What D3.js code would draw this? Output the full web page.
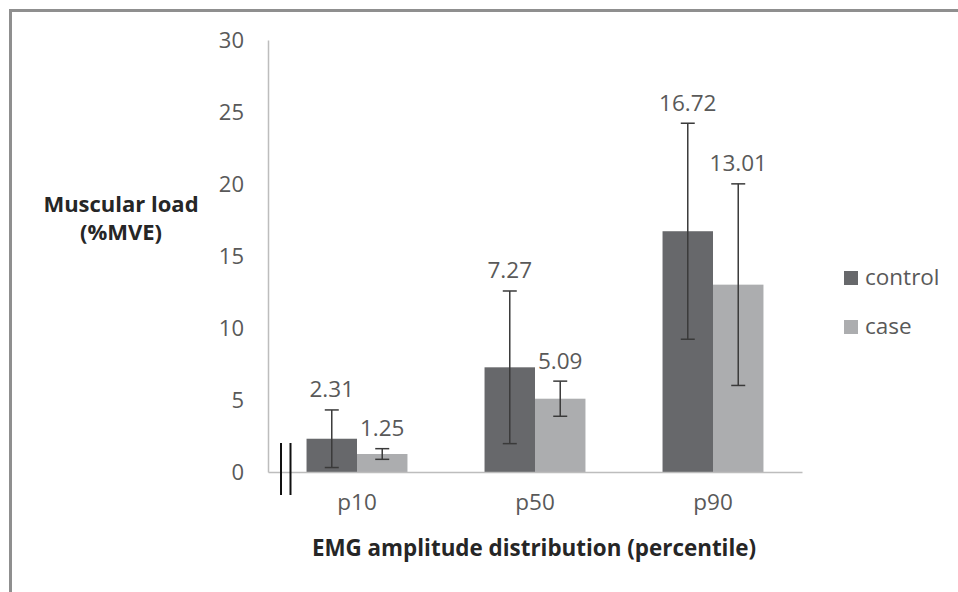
<!DOCTYPE html>
<html>
<head>
<meta charset="utf-8">
<script src="https://cdn.jsdelivr.net/npm/d3@7"></script>
<style>
  html, body { margin: 0; padding: 0; background: #fff; }
  svg { display: block; }
  text { font-family: "Open Sans", "Noto Sans", sans-serif; }
</style>
</head>
<body>
<svg id="chart" width="958" height="592"></svg>
<script>
const categories = ["p10", "p50", "p90"];
const seriesNames = ["control", "case"];
const controlValues = [2.31, 7.27, 16.72];
const caseValues = [1.25, 5.09, 13.01];
const controlSD = [2.0, 5.3, 7.5];
const caseSD = [0.37, 1.22, 7.0];
const yTicks = [0, 5, 10, 15, 20, 25, 30];
const seriesColors = ["#67686b", "#acadaf"];

const svg = d3.select("#chart");

// frame border
svg.append("path")
  .attr("d", "M10.5,600 L10.5,10.5 L970,10.5")
  .attr("fill", "none").attr("stroke", "#8f8f8f").attr("stroke-width", 3);

const x0 = d3.scaleBand().domain(categories).range([268, 802])
  .paddingInner(0.433).paddingOuter(0.2165);
const x1 = d3.scaleBand().domain(seriesNames).range([0, x0.bandwidth()]);
const y = d3.scaleLinear().domain([0, 30]).range([472, 40]);

const data = categories.map((c, i) => ({
  cat: c,
  vals: [
    { s: "control", v: controlValues[i], sd: controlSD[i] },
    { s: "case", v: caseValues[i], sd: caseSD[i] }
  ]
}));

// y axis
const yAxis = d3.axisLeft(y).tickValues(yTicks).tickSize(0).tickPadding(24);
const gy = svg.append("g").attr("transform", "translate(268,0)").call(yAxis);
gy.select(".domain").attr("stroke", "#bdbdbd").attr("stroke-width", 1.5);
gy.selectAll("text").attr("font-size", 22).attr("fill", "#595959")
  .attr("font-family", "'Open Sans', sans-serif").attr("dy", "0.36em");

// bars
const groups = svg.append("g").selectAll("g").data(data).join("g")
  .attr("transform", d => `translate(${x0(d.cat)},0)`);

groups.selectAll("rect").data(d => d.vals).join("rect")
  .attr("x", d => x1(d.s))
  .attr("width", x1.bandwidth())
  .attr("y", d => y(d.v))
  .attr("height", d => y(0) - y(d.v))
  .attr("fill", (d, i) => seriesColors[i]);

// x axis line
const xAxis = d3.axisBottom(x0).tickSize(0).tickPadding(22);
const gx = svg.append("g").attr("transform", `translate(0,${y(0)})`).call(xAxis);
gx.select(".domain").attr("stroke", "#bdbdbd").attr("stroke-width", 1.5);
gx.selectAll("text").attr("font-size", 22.5).attr("fill", "#595959")
  .attr("font-family", "'Open Sans', sans-serif");

// error bars
const eb = groups.selectAll("g.err").data(d => d.vals).join("g").attr("class", "err");
const cx = d => x1(d.s) + x1.bandwidth() / 2;
eb.append("line")
  .attr("x1", cx).attr("x2", cx)
  .attr("y1", d => y(d.v + d.sd)).attr("y2", d => y(d.v - d.sd))
  .attr("stroke", "#3a3a3a").attr("stroke-width", 1.5);
eb.append("line")
  .attr("x1", d => cx(d) - 7).attr("x2", d => cx(d) + 7)
  .attr("y1", d => y(d.v + d.sd)).attr("y2", d => y(d.v + d.sd))
  .attr("stroke", "#3a3a3a").attr("stroke-width", 1.5);
eb.append("line")
  .attr("x1", d => cx(d) - 7).attr("x2", d => cx(d) + 7)
  .attr("y1", d => y(d.v - d.sd)).attr("y2", d => y(d.v - d.sd))
  .attr("stroke", "#3a3a3a").attr("stroke-width", 1.5);

// value labels
eb.append("text")
  .attr("x", cx)
  .attr("y", d => y(d.v + d.sd) - 12.5)
  .attr("text-anchor", "middle")
  .attr("font-size", 22.5).attr("fill", "#595959")
  .text(d => d.v.toFixed(2));

// axis break marks
[281, 290.5].forEach(bx => {
  svg.append("line").attr("x1", bx).attr("x2", bx).attr("y1", 443).attr("y2", 495)
    .attr("stroke", "#111").attr("stroke-width", 2);
});

// y title
const yt = svg.append("text").attr("text-anchor", "middle")
  .attr("font-weight", "bold").attr("font-size", 22).attr("fill", "#262626");
yt.append("tspan").attr("x", 121).attr("y", 212).text("Muscular load");
yt.append("tspan").attr("x", 121).attr("y", 240).text("(%MVE)");

// x title
svg.append("text").attr("x", 534).attr("y", 556).attr("text-anchor", "middle")
  .attr("font-weight", "bold").attr("font-size", 22.4).attr("fill", "#262626")
  .text("EMG amplitude distribution (percentile)");

// legend
const leg = svg.append("g").selectAll("g").data(seriesNames).join("g")
  .attr("transform", (d, i) => `translate(844,${271 + i * 49})`);
leg.append("rect").attr("width", 14).attr("height", 14)
  .attr("fill", (d, i) => seriesColors[i]);
leg.append("text").attr("x", 21).attr("y", 14)
  .attr("font-size", 22.5).attr("fill", "#595959").text(d => d);
</script>
</body>
</html>
